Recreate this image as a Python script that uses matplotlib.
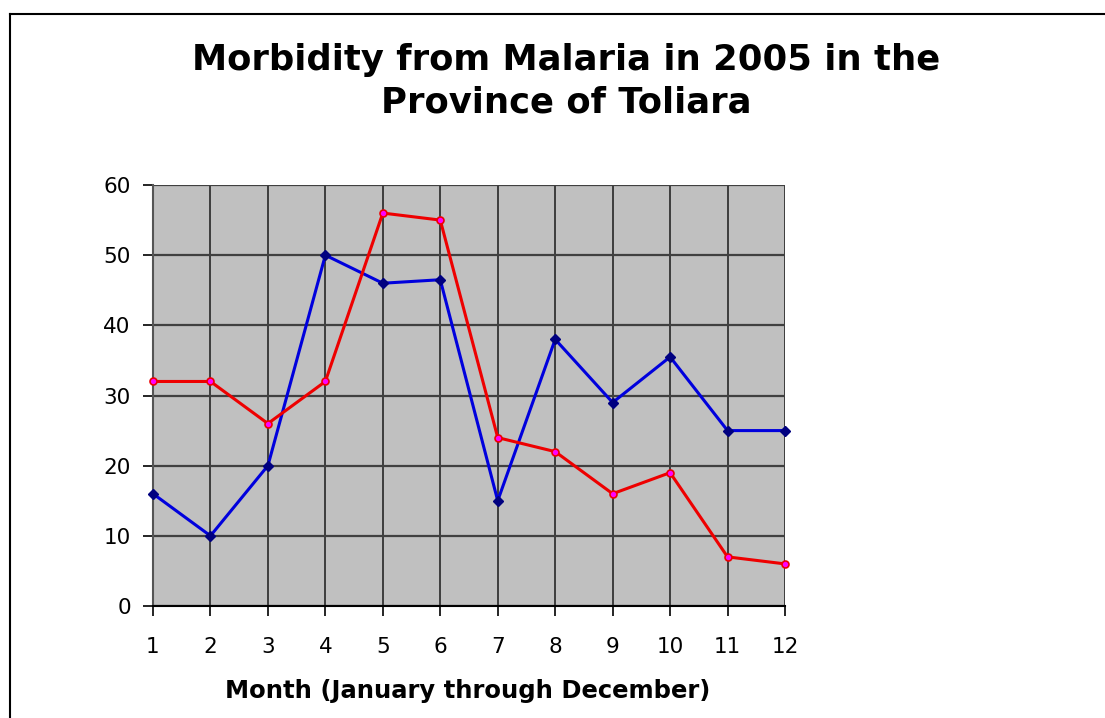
import matplotlib.pyplot as plt
from matplotlib.lines import Line2D

months = list(range(1, 13))
series_blue = [16, 10, 20, 50, 46, 46.5, 15, 38, 29, 35.5, 25, 25]
series_red = [32, 32, 26, 32, 56, 55, 24, 22, 16, 19, 7, 6]
y_ticks = [0, 10, 20, 30, 40, 50, 60]

title = "Morbidity from Malaria in 2005 in the\nProvince of Toliara"
x_label = "Month (January through December)"

plt.rcParams["font.family"] = ["DejaVu Sans"]

fig = plt.figure(figsize=(11.05, 7.18), dpi=100)
ax = fig.add_axes([153 / 1105, 1 - 606 / 718, (785 - 153) / 1105, (606 - 185) / 718])
ax.set_facecolor("#c0c0c0")

ax.plot(months, series_blue, color="#0000dd", lw=2.2, marker="D", ms=5,
        mfc="#000080", mec="#000080", zorder=3, clip_on=False)
ax.plot(months, series_red, color="#ee0000", lw=2.2, marker="o", ms=5,
        mfc="#ff00ff", mec="#ee0000", mew=1.2, zorder=3, clip_on=False)

ax.set_xlim(1, 12)
ax.set_ylim(0, 60)
ax.set_xticks(months)
ax.set_yticks(y_ticks)
ax.xaxis.grid(True, color="#1a1a1a", lw=1.1)
ax.yaxis.grid(True, color="#404040", lw=1.6)
ax.set_axisbelow(True)
for s in ["top", "right"]:
    ax.spines[s].set_visible(False)
ax.spines["left"].set_color("#555555")
ax.spines["left"].set_linewidth(1.5)
ax.spines["bottom"].set_color("black")
ax.spines["bottom"].set_linewidth(1.5)
ax.tick_params(axis="both", direction="out", length=7, width=1.2, labelsize=15.5,
               colors="black")
ax.tick_params(axis="x", pad=15)
ax.tick_params(axis="y", pad=9)

fig.text(566 / 1105, 1 - 81 / 718, title, ha="center", va="center",
         fontsize=25.5, fontweight="bold", linespacing=1.3)
fig.text(468 / 1105, 1 - 691 / 718, x_label, ha="center", va="center",
         fontsize=17.5, fontweight="bold")

# chart frame (cut off at right and bottom)
fig.add_artist(Line2D([10 / 1105, 10 / 1105], [0, 1 - 14 / 718], color="black", lw=1.5))
fig.add_artist(Line2D([10 / 1105, 1], [1 - 14 / 718, 1 - 14 / 718], color="black", lw=1.5))

fig.savefig("out.png", dpi=100)
